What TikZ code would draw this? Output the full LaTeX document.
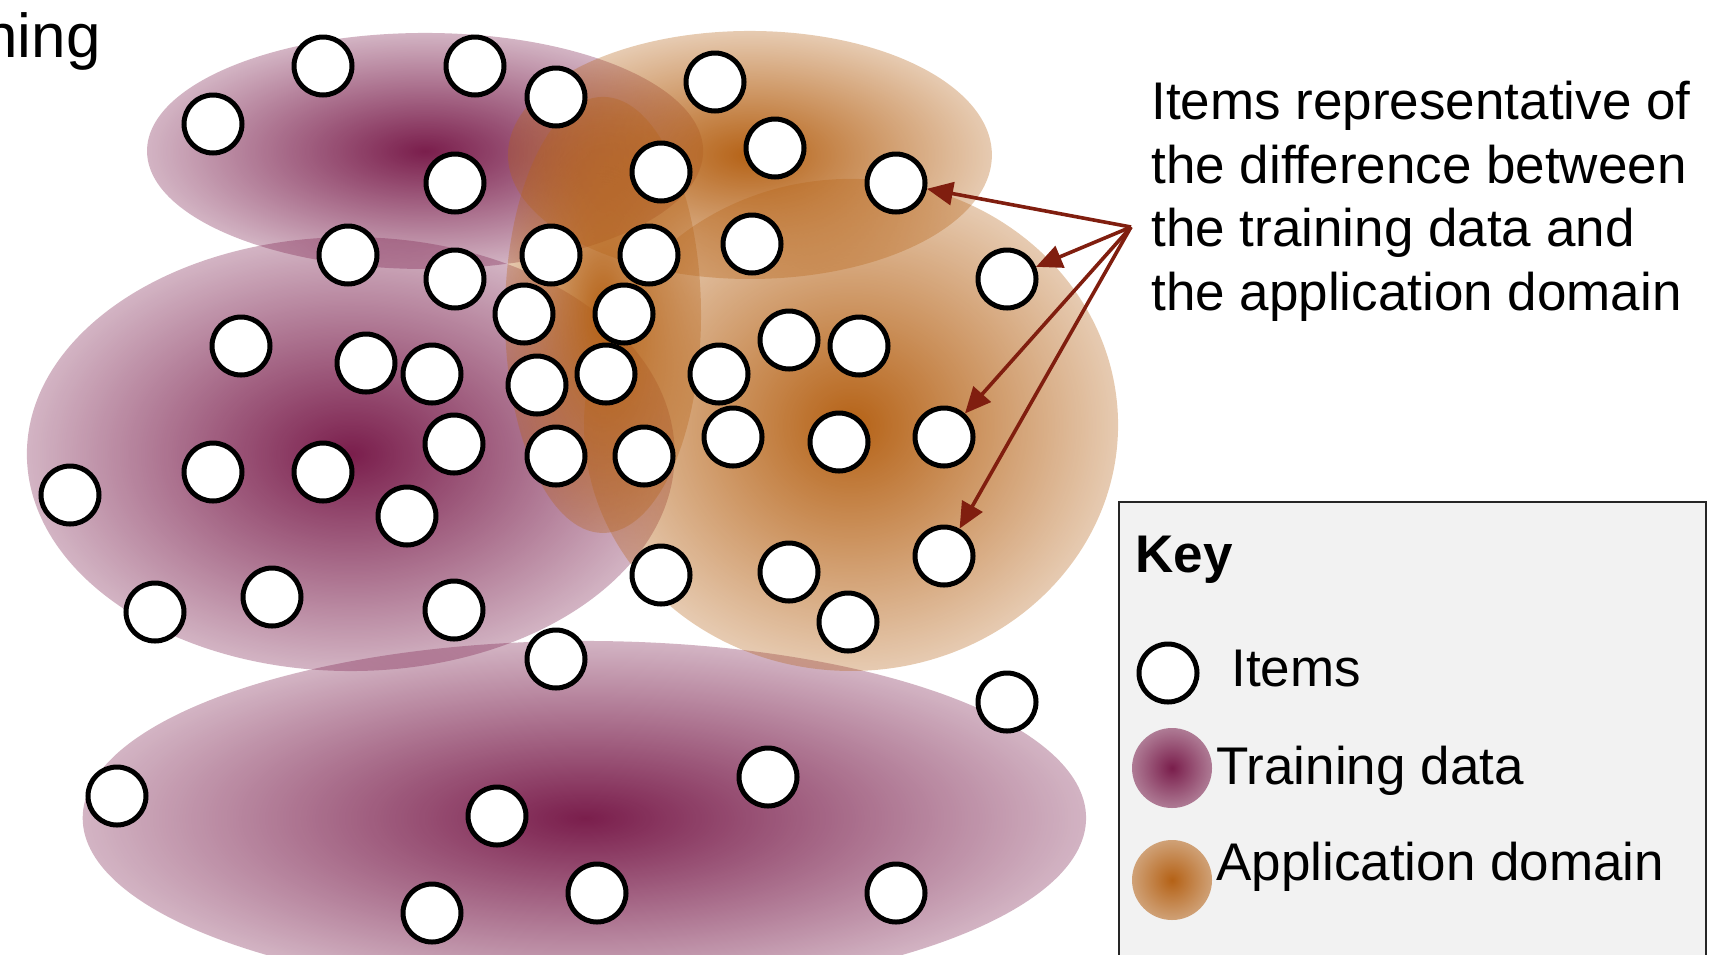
\documentclass[tikz,border=0pt]{standalone}
\usepackage{fontspec}
\setmainfont{Liberation Sans}
\usetikzlibrary{arrows.meta,fadings}
\definecolor{purp}{RGB}{122,30,76}
\definecolor{orng}{RGB}{181,98,22}
\definecolor{arrred}{RGB}{128,30,15}
\definecolor{keybg}{RGB}{242,242,242}
\pgfdeclareradialshading{ellfadeshade}{\pgfpointorigin}{color(0bp)=(white); color(34bp)=(black!91); color(50bp)=(black!91)}
\pgfdeclareradialshading{keyfadeshade}{\pgfpointorigin}{color(0bp)=(white); color(35bp)=(black!62); color(50bp)=(black!62)}
\tikzfading[name=fadeE, shading=ellfadeshade]
\tikzfading[name=fadeK, shading=keyfadeshade]
\begin{document}
\begin{tikzpicture}[x=0.5pt,y=-0.5pt,
  item/.style={circle, draw=black, line width=2.5pt, fill=white, minimum size=29pt, inner sep=0pt},
  blobP/.style={fill=purp, path fading=fadeE},
  blobO/.style={fill=orng, path fading=fadeE},
  arr/.style={draw=arrred, line width=1.8pt, -{Triangle[length=13pt,width=11.5pt]}},
  txt/.style={font=\fontsize{26.5pt}{31.7pt}\selectfont, inner sep=0pt, text=black},
  keyframe/.style={draw=black!85, line width=1pt, fill=keybg},
]
\useasboundingbox (0,0) rectangle (1733,954);
% training data ellipses
\fill[blobP] (425,151) ellipse [x radius=278, y radius=118];
\fill[blobP] (351,454) ellipse [x radius=324, y radius=217];
\fill[blobP] (585,818) ellipse [x radius=502, y radius=177];
% application domain ellipses
\fill[blobO] (750,155) ellipse [x radius=242, y radius=124];
\fill[blobO] (851,425) ellipse [x radius=267, y radius=246];
\fill[blobO] (603,315) ellipse [x radius=98, y radius=218];
% items
\foreach \px/\py [count=\i] in {323/66, 475/66, 213/124, 556/97, 715/82, 455/183, 661/172, 775/148, 896/183, 348/255,
  455/279, 551/255, 649/255, 752/244, 1007/279, 524/314, 624/314, 241/346, 366/363, 432/374,
  537/385, 606/374, 719/374, 789/340, 859/346, 454/444, 70/495, 213/472, 323/472, 407/516,
  556/456, 644/456, 733/437, 839/442, 944/437, 155/612, 272/597, 454/610, 661/575, 789/572,
  848/622, 944/556, 556/659, 1007/702, 117/796, 497/816, 768/777, 432/913, 597/893, 896/893}
  \node[item] (c\i) at (\px,\py) {};
% annotation
\coordinate (src) at (1131,227);
\draw[arr] (src) -- (c9);
\draw[arr] (src) -- (c15);
\draw[arr] (src) -- (c35);
\draw[arr] (src) -- (c42);
\node[txt, anchor=north west, align=left] (note) at (1151,81) {Items representative of\\the difference between\\the training data and\\the application domain};
\node[txt, anchor=base west, font=\fontsize{31pt}{36pt}\selectfont] (ning) at (-17,57) {ning};
% key
\path[keyframe] (1119,502) rectangle (1706,1000);
\node[txt, anchor=base west, font=\fontsize{26.5pt}{32pt}\selectfont\bfseries] (keyt) at (1135,572) {Key};
\node[item] (legitem) at (1168,673) {};
\node[txt, anchor=base west] (legitemt) at (1231,686) {Items};
\fill[purp, path fading=fadeK] (1172,768) circle [radius=40];
\node[txt, anchor=base west] (legtrain) at (1216,784) {Training data};
\fill[orng, path fading=fadeK] (1172,880) circle [radius=40];
\node[txt, anchor=base west] (legapp) at (1216,880) {Application domain};
\end{tikzpicture}
\end{document}
